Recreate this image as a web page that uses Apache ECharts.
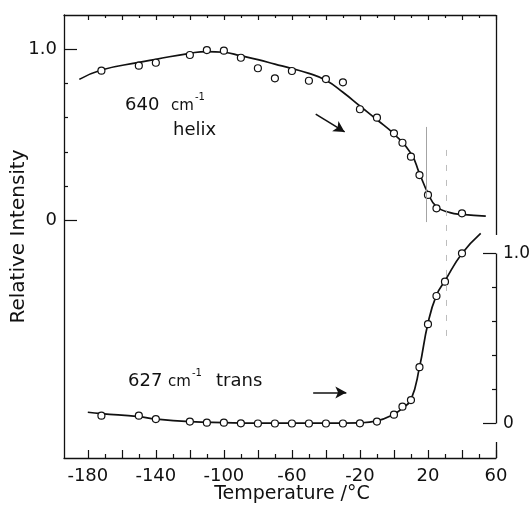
<!DOCTYPE html>
<html>
<head>
<meta charset="utf-8">
<script src="https://cdn.jsdelivr.net/npm/echarts@6/dist/echarts.min.js"></script>
<style>
html, body { margin: 0; padding: 0; background: #fff; }
#chart { width: 530px; height: 506px; }
</style>
</head>
<body>
<div id="chart"></div>
<script>
// 640 cm-1 band (helix), measured points
var helixT = [-172, -150, -140, -120, -110, -100, -90, -80, -70, -60, -50, -40, -30, -20, -10, 0, 5, 10, 15, 20, 25, 40];
var helixI = [0.874, 0.903, 0.920, 0.965, 0.994, 0.990, 0.949, 0.888, 0.829, 0.872, 0.815, 0.825, 0.806, 0.649, 0.600, 0.509, 0.454, 0.373, 0.266, 0.150, 0.072, 0.043];
// drawn curve through the helix points
var helixFitT = [-185, -172, -150, -140, -120, -110, -100, -90, -80, -70, -60, -50, -40, -30, -20, -10, 0, 10, 15, 20, 25, 33, 40, 54];
var helixFitI = [0.823, 0.878, 0.922, 0.940, 0.975, 0.985, 0.981, 0.960, 0.938, 0.912, 0.886, 0.858, 0.818, 0.748, 0.668, 0.588, 0.505, 0.392, 0.276, 0.160, 0.082, 0.047, 0.037, 0.027];

// 627 cm-1 band (trans), measured points
var transT = [-172, -150, -140, -120, -110, -100, -90, -80, -70, -60, -50, -40, -30, -20, -10, 0, 5, 10, 15, 20, 25, 30, 40];
var transI = [0.046, 0.046, 0.026, 0.011, 0.005, 0.005, 0.001, 0, 0, 0, 0, 0, 0, 0.001, 0.011, 0.052, 0.099, 0.138, 0.331, 0.584, 0.750, 0.834, 1.001];
// drawn curve through the trans points
var transFitT = [-180, -172, -150, -140, -120, -100, -80, -40, -20, -10, 0, 5, 10, 15, 20, 25, 30, 40, 51];
var transFitI = [0.066, 0.058, 0.040, 0.026, 0.011, 0.005, 0.002, 0.002, 0.004, 0.015, 0.055, 0.090, 0.140, 0.330, 0.590, 0.755, 0.840, 1.000, 1.119];

// ticks
var xLabels = [-180, -140, -100, -60, -20, 20, 60];
var xMajorTicks = [-180, -160, -140, -120, -100, -80, -60, -40, -20, 0, 20, 40, 60];
var xMinorTicks = [-170, -150, -130, -110, -90, -70, -50, -30, -10, 10, 30, 50];
var yLabels = [0, 1.0];
var yMinorTicks = [0.2, 0.4, 0.6, 0.8];

function zip(a, b) {
	var out = [];
	for (var i = 0; i < a.length; i++) out.push([a[i], b[i]]);
	return out;
}

var FONT = 'DejaVu Sans';
var INK = '#111';

var myChart = echarts.init(document.getElementById('chart'), null, { renderer: 'canvas' });

// one grid = the whole frame; top panel uses the left scale, bottom panel the right one
var xBase = { type: 'value', min: -194, max: 60, splitLine: { show: false } };
var yTop = { type: 'value', min: -1.382, max: 1.198, splitLine: { show: false } };
var yBot = { type: 'value', min: -0.203, max: 2.403, splitLine: { show: false } };

function yFmt(v) { return v === 0 ? '0' : v.toFixed(1); }
function line(show) { return { show: show, onZero: false, lineStyle: { color: INK, width: 1.3 } }; }
function ticks(vals, len) { return { show: true, inside: true, length: len, customValues: vals, lineStyle: { color: INK, width: 1.2 } }; }

var option = {
	animation: false,
	backgroundColor: '#fff',
	grid: { left: 64, right: 34, top: 15, bottom: 48, containLabel: false, outerBoundsMode: 'none' },
	xAxis: [
		Object.assign({}, xBase, {
			position: 'bottom', axisLine: line(true), axisTick: ticks(xMajorTicks, 8),
			axisLabel: { show: true, customValues: xLabels, margin: 9, color: INK, fontFamily: FONT, fontSize: 18 },
			name: 'Temperature /°C', nameLocation: 'middle', nameGap: 27, nameMoveOverlap: false,
			nameTextStyle: { color: INK, fontFamily: FONT, fontSize: 19, padding: [0, 0, 0, 24] }
		}),
		Object.assign({}, xBase, { position: 'bottom', axisLine: line(false), axisTick: ticks(xMinorTicks, 4), axisLabel: { show: false } }),
		Object.assign({}, xBase, { position: 'top', axisLine: line(true), axisTick: ticks(xMajorTicks, 5), axisLabel: { show: false } }),
		Object.assign({}, xBase, { position: 'top', axisLine: line(false), axisTick: ticks(xMinorTicks, 3), axisLabel: { show: false } })
	],
	yAxis: [
		Object.assign({}, yTop, {
			position: 'left', axisLine: line(true), axisTick: ticks(yLabels, 13),
			axisLabel: { show: true, customValues: yLabels, formatter: yFmt, margin: 7, color: INK, fontFamily: FONT, fontSize: 18 },
			name: 'Relative Intensity', nameLocation: 'middle', nameGap: 35, nameRotate: 90, nameMoveOverlap: false,
			nameTextStyle: { color: INK, fontFamily: FONT, fontSize: 20 }
		}),
		Object.assign({}, yTop, { position: 'left', axisLine: line(false), axisTick: ticks(yMinorTicks, 4), axisLabel: { show: false } }),
		Object.assign({}, yBot, {
			position: 'right', axisLine: line(false), axisTick: ticks(yLabels, 13),
			axisLabel: { show: true, customValues: yLabels, formatter: yFmt, margin: 7, color: INK, fontFamily: FONT, fontSize: 17 }
		}),
		Object.assign({}, yBot, { position: 'right', axisLine: line(false), axisTick: ticks(yMinorTicks, 4), axisLabel: { show: false } })
	],
	graphic: [
		{ type: 'text', left: 125, top: 96, style: { text: '640', font: '18px "DejaVu Sans"', fill: INK } },
		{ type: 'text', left: 171, top: 99, style: { text: 'cm', font: '15px "DejaVu Sans"', fill: INK } },
		{ type: 'text', left: 195, top: 92, style: { text: '-1', font: '10px "DejaVu Sans"', fill: INK } },
		{ type: 'text', left: 173, top: 121, style: { text: 'helix', font: '18px "DejaVu Sans"', fill: INK } },
		{ type: 'text', left: 128, top: 372, style: { text: '627', font: '18px "DejaVu Sans"', fill: INK } },
		{ type: 'text', left: 168, top: 375, style: { text: 'cm', font: '15px "DejaVu Sans"', fill: INK } },
		{ type: 'text', left: 192, top: 368, style: { text: '-1', font: '10px "DejaVu Sans"', fill: INK } },
		{ type: 'text', left: 216, top: 372, style: { text: 'trans', font: '18px "DejaVu Sans"', fill: INK } }
	],
	series: [
		{
			name: '640 helix curve', type: 'line', xAxisIndex: 0, yAxisIndex: 0,
			data: zip(helixFitT, helixFitI), smooth: 0.5, showSymbol: false, symbol: 'none',
			lineStyle: { color: INK, width: 1.7 }, z: 2, clip: false,
			markLine: {
				silent: true, symbol: ['none', 'arrow'], symbolSize: [9, 11], label: { show: false },
				lineStyle: { color: INK, width: 1.6, type: 'solid' },
				data: [[{ coord: [-46, 0.621] }, { coord: [-29, 0.517] }]]
			}
		},
		{
			name: '640 helix', type: 'scatter', xAxisIndex: 0, yAxisIndex: 0,
			data: zip(helixT, helixI), symbol: 'circle', symbolSize: 7,
			itemStyle: { color: '#fff', borderColor: INK, borderWidth: 1.2, opacity: 1 }, z: 3,
			markLine: {
				silent: true, symbol: ['none', 'none'], label: { show: false },
				lineStyle: { color: '#9a9a9a', width: 0.9, type: 'solid' },
				data: [
					[{ coord: [19, 0.546] }, { coord: [19, -0.008] }],
					[{ coord: [30.5, 0.412], lineStyle: { type: [6, 9], color: '#b5b5b5' } }, { coord: [30.5, -0.706] }]
				]
			}
		},
		{
			name: '627 trans curve', type: 'line', xAxisIndex: 0, yAxisIndex: 2,
			data: zip(transFitT, transFitI), smooth: 0.5, showSymbol: false, symbol: 'none',
			lineStyle: { color: INK, width: 1.7 }, z: 2, clip: false,
			markLine: {
				silent: true, symbol: ['none', 'arrow'], symbolSize: [9, 11], label: { show: false },
				lineStyle: { color: INK, width: 1.6, type: 'solid' },
				data: [[{ coord: [-47.5, 0.182] }, { coord: [-28, 0.182] }]]
			}
		},
		{
			name: '627 trans', type: 'scatter', xAxisIndex: 0, yAxisIndex: 2,
			data: zip(transT, transI), symbol: 'circle', symbolSize: 7, clip: false,
			itemStyle: { color: '#fff', borderColor: INK, borderWidth: 1.2, opacity: 1 }, z: 3,
			// right frame, broken around the bottom panel labels
			markLine: {
				silent: true, symbol: ['none', 'none'], label: { show: false },
				lineStyle: { color: INK, width: 1.3, type: 'solid' },
				data: [
					[{ coord: [60, 2.403] }, { coord: [60, 1.109] }],
					[{ coord: [60, 1.0] }, { coord: [60, 0] }],
					[{ coord: [60, -0.109] }, { coord: [60, -0.203] }]
				]
			}
		}
	]
};

myChart.setOption(option);
</script>
</body>
</html>
